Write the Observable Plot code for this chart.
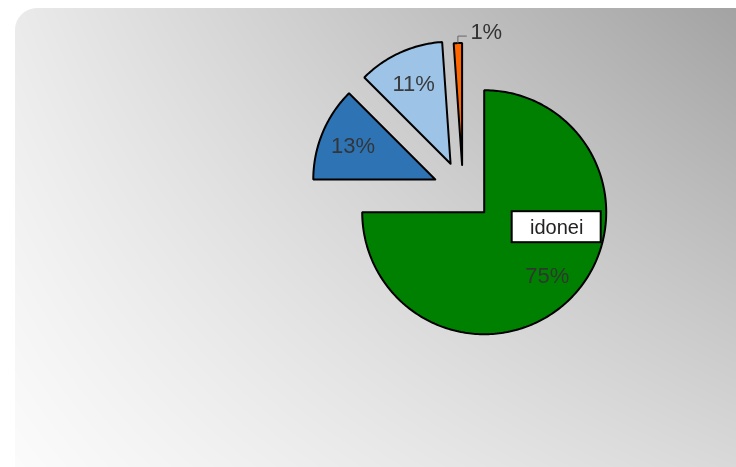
<!DOCTYPE html>
<html><head><meta charset="utf-8">
<script src="https://cdn.jsdelivr.net/npm/d3@7"></script>
<script src="https://cdn.jsdelivr.net/npm/@observablehq/plot@0.6"></script>
<style>
html,body{margin:0;padding:0;background:#fff;}
#wrap{position:relative;width:736px;height:467px;overflow:hidden;font-family:"Liberation Sans",Arial,sans-serif;}
#bg{position:absolute;left:15px;top:8px;border-top-left-radius:22px;}
#chart{position:absolute;left:0;top:0;}
</style></head><body>
<div id="wrap"><canvas id="bg" width="721" height="459"></canvas><div id="chart"></div></div>
<script>
// ---- data ----
const categories = ["idonei", "idonei con prescrizioni", "idonei con limitazioni", "non idonei"];
const values = [75, 12.5, 11.4, 1.1];
const colors = ["#008000", "#2e74b5", "#9dc3e6", "#ff6600"];

// ---- style / layout constants ----
const CX = 462.5, CY = 190.5, R = 122;
const explodePx = [30, 30, 30, 26];
const labelRadius = 0.73;

// background
(function(){
  const c = document.getElementById("bg"), ctx = c.getContext("2d");
  const W = c.width, H = c.height, img = ctx.createImageData(W, H);
  for (let py = 0; py < H; py++) for (let px = 0; px < W; px++) {
    const u = px / 715, v = (H - py) / 437;
    const dark = 4 + 34 * u + 16 * v + 35 * u * v;
    const val = Math.max(0, Math.min(255, 255 - dark));
    const k = (py * W + px) * 4;
    img.data[k] = img.data[k+1] = img.data[k+2] = val; img.data[k+3] = 255;
  }
  ctx.putImageData(img, 0, 0);
})();

const total = d3.sum(values);
const arcs = d3.pie().sort(null).startAngle(0).endAngle(2 * Math.PI)(values);

const slices = arcs.map((a, i) => {
  const mid = (a.startAngle + a.endAngle) / 2;
  const e = explodePx[i] / R;
  const ox = e * Math.sin(mid), oy = e * Math.cos(mid);
  const pts = [{x: ox, y: oy}];
  const n = Math.max(2, Math.ceil((a.endAngle - a.startAngle) / (Math.PI / 180)));
  for (let k = 0; k <= n; k++) {
    const t = a.startAngle + (a.endAngle - a.startAngle) * k / n;
    pts.push({x: ox + Math.sin(t), y: oy + Math.cos(t)});
  }
  pts.push({x: ox, y: oy});
  const pct = Math.round(values[i] / total * 100) + "%";
  return {i, mid, ox, oy, pts, pct, name: categories[i], color: colors[i], small: values[i] / total < 0.03};
});

const inner = slices.filter(s => !s.small).map(s => ({
  x: s.ox + labelRadius * Math.sin(s.mid),
  y: s.oy + labelRadius * Math.cos(s.mid),
  text: s.pct
}));

const outer = slices.filter(s => s.small).map(s => {
  const x0 = s.ox + Math.sin(s.mid), y0 = s.oy + Math.cos(s.mid);
  return {s, path: [{x: x0, y: y0}, {x: x0, y: y0 + 7 / R}, {x: x0 + 8.5 / R, y: y0 + 7 / R}]};
});

const main = inner[0];

const marks = [
  ...slices.map(s => Plot.line(s.pts, {x: "x", y: "y", fill: s.color, stroke: "#000", strokeWidth: 2, strokeLinejoin: "miter", curve: "linear"})),
  Plot.text(inner, {x: "x", y: "y", text: "text", fontSize: 22, fill: "#333", fillOpacity: 0.95, dy: 1}),
  ...outer.map(o => Plot.line(o.path, {x: "x", y: "y", stroke: "#666", strokeWidth: 1})),
  Plot.text(outer.map(o => ({x: o.path[2].x, y: o.path[2].y, text: o.s.pct})), {x: "x", y: "y", text: "text", fontSize: 22, fill: "#333", textAnchor: "start", dx: 4, dy: -4}),
  Plot.rect([main], {x1: "x", x2: "x", y1: "y", y2: "y", fill: "#fff", stroke: "#000", strokeWidth: 2,
    insetLeft: -44.5, insetRight: -44.5, insetTop: -15.5, insetBottom: -15.5, dx: 9.5, dy: -48}),
  Plot.text([{x: main.x, y: main.y, text: categories[0]}], {x: "x", y: "y", text: "text", fontSize: 20, fill: "#222", dx: 9.5, dy: -48})
];

const chart = Plot.plot({
  width: 736, height: 467, margin: 0,
  x: {domain: [-1, 1], range: [CX - R, CX + R], axis: null},
  y: {domain: [-1, 1], range: [CY + R, CY - R], axis: null},
  style: {background: "transparent", fontFamily: "'Liberation Sans', Arial, sans-serif", overflow: "visible"},
  marks
});
document.getElementById("chart").appendChild(chart);
</script>
</body></html>
